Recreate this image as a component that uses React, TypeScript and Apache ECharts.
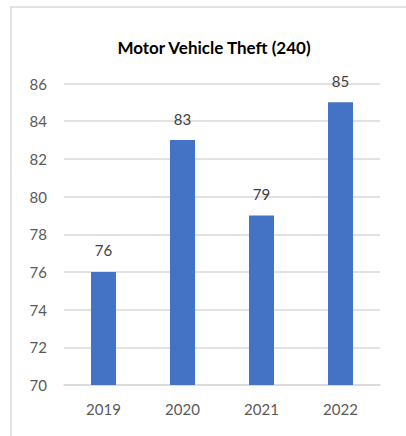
import React, { useEffect, useRef } from "react";
import * as echarts from "echarts";

const categories = ["2019", "2020", "2021", "2022"];
const values = [76, 83, 79, 85];
const titleText = "Motor Vehicle Theft (240)";

export default function App() {
  const ref = useRef<HTMLDivElement>(null);
  useEffect(() => {
    if (!ref.current) return;
    const chart = echarts.init(ref.current, null, { renderer: "svg" });
    chart.setOption({
      animation: false,
      title: {
        text: titleText,
        left: 209,
        top: 34,
        textAlign: "center",
        textStyle: { fontFamily: "Lato", fontWeight: "bold", fontSize: 17, color: "#000" },
      },
      graphic: [
        {
          type: "rect",
          shape: { x: 11, y: 7, width: 600, height: 600 },
          style: { fill: "none", stroke: "#d9d9d9", lineWidth: 1.5 },
        },
      ],
      grid: { left: 64, right: 26, top: 83.5, bottom: 51, containLabel: false },
      xAxis: {
        type: "category",
        data: categories,
        axisTick: { show: false },
        axisLine: { lineStyle: { color: "#d9d9d9", width: 1.5 } },
        axisLabel: { color: "#595959", fontFamily: "Lato", fontSize: 15, margin: 16 },
      },
      yAxis: {
        type: "value",
        min: 70,
        max: 86,
        interval: 2,
        axisLine: { show: false },
        axisTick: { show: false },
        splitLine: { lineStyle: { color: "#d9d9d9", width: 1.5 } },
        axisLabel: { color: "#595959", fontFamily: "Lato", fontSize: 15, margin: 17 },
      },
      series: [
        {
          type: "bar",
          data: values,
          barWidth: 25,
          itemStyle: { color: "#4472C4" },
          label: {
            show: true,
            position: "top",
            distance: 14,
            color: "#404040",
            fontFamily: "Lato",
            fontSize: 15,
          },
        },
      ],
    });
    return () => chart.dispose();
  }, []);
  return (
    <div style={{ position: "fixed", left: 0, top: 0, width: 406, height: 436, background: "#fff" }}>
      <div ref={ref} style={{ width: 406, height: 436 }} />
    </div>
  );
}
